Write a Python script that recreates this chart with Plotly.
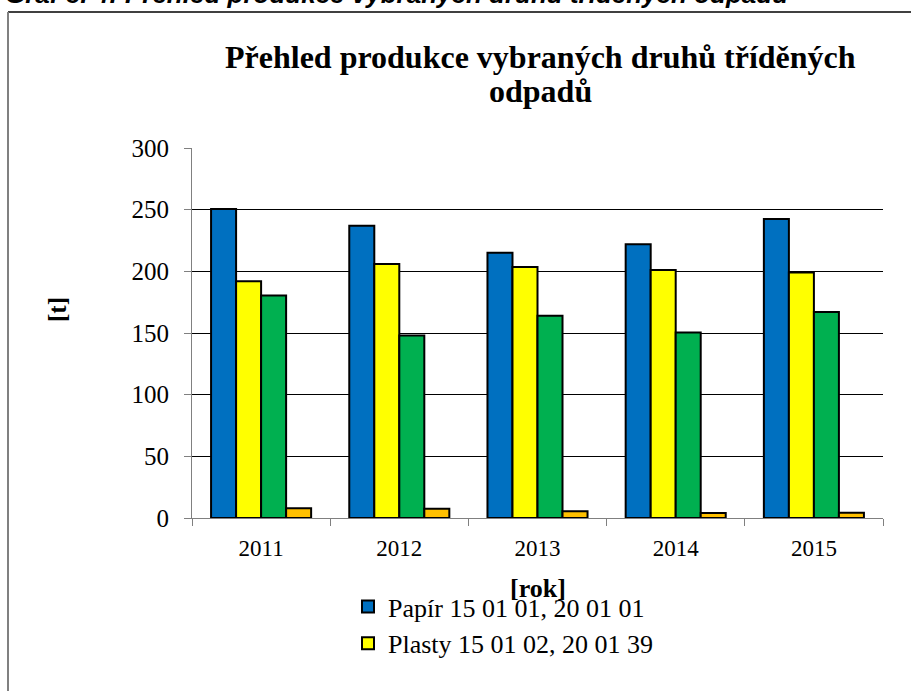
import plotly.graph_objects as go

years = ["2011", "2012", "2013", "2014", "2015"]
papir = [250.5, 237, 215, 222, 242.5]
plasty = [192, 206, 203.5, 201, 199]
serie3 = [180.5, 148, 164, 150.5, 167]
serie4 = [8, 7.5, 5.5, 4, 4.3]

names = ["Papír 15 01 01, 20 01 01", "Plasty 15 01 02, 20 01 39", "Série 3", "Série 4"]
colors = ["#0070C0", "#FFFF00", "#00B050", "#FFC000"]
series = [papir, plasty, serie3, serie4]
show = [True, True, False, False]

SERIF = "Liberation Serif"

fig = go.Figure()
for n, c, v, s in zip(names, colors, series, show):
    fig.add_trace(go.Bar(x=years, y=v, name=n, showlegend=s,
                         marker=dict(color=c, line=dict(color="black", width=2))))

W, H = 911, 691
L, R, T, B = 192, 28, 148, 173
pw, ph = W - L - R, H - T - B

def px(x):
    return (x - L) / pw

def py(y):
    return (H - B - y) / ph

fig.update_layout(
    width=W, height=H,
    margin=dict(l=L, r=R, t=T, b=B, autoexpand=False),
    paper_bgcolor="white", plot_bgcolor="white",
    barmode="group", bargap=0.276, bargroupgap=0,
    font=dict(family=SERIF, color="black", size=24),
    showlegend=True,
    legend=dict(x=px(348), y=py(583), xanchor="left", yanchor="top",
                font=dict(family=SERIF, size=26, color="black"),
                bgcolor="rgba(0,0,0,0)", tracegroupgap=0, itemwidth=30),
    xaxis=dict(showgrid=False, showline=True, linecolor="#808080", linewidth=1,
               ticks="outside", ticklen=7, tickcolor="#808080", tickson="boundaries",
               ticklabelstandoff=9,
               tickfont=dict(family=SERIF, size=23), fixedrange=True),
    yaxis=dict(range=[0, 300], dtick=50, showgrid=True, gridcolor="black", gridwidth=1,
               showline=True, linecolor="#808080", linewidth=1,
               ticks="outside", ticklen=7, tickcolor="#808080", ticklabelstandoff=10,
               tickfont=dict(family=SERIF, size=25), zeroline=False, fixedrange=True),
)

ann = [
    dict(text="<b>Přehled produkce vybraných druhů tříděných</b>", x=px(540), y=py(57),
         font=dict(family=SERIF, size=32)),
    dict(text="<b>odpadů</b>", x=px(540), y=py(91), font=dict(family=SERIF, size=32)),
    dict(text="<b>[rok]</b>", x=px(538), y=py(588), font=dict(family=SERIF, size=26)),
    dict(text="<b>[t]</b>", x=px(57), y=py(310), textangle=-90, font=dict(family=SERIF, size=25)),
    dict(text="<b><i>Graf č. 4: Přehled produkce vybraných druhů tříděných odpadů</i></b>",
         x=px(3), y=py(11), xanchor="left", yanchor="bottom",
         font=dict(family="Liberation Sans", size=26)),
]
for a in ann:
    a.setdefault("xanchor", "center")
    a.setdefault("yanchor", "middle")
    fig.add_annotation(xref="paper", yref="paper", showarrow=False, **a)

fig.add_shape(type="line", xref="paper", yref="paper", x0=px(8), x1=px(930), y0=py(12), y1=py(12),
              line=dict(color="#404040", width=2))
fig.add_shape(type="line", xref="paper", yref="paper", x0=px(8), x1=px(8), y0=py(12), y1=py(720),
              line=dict(color="#808080", width=2))

fig.write_html("out.html", config={"displayModeBar": False},
               post_script="document.body.style.margin='0';document.body.style.overflow='hidden';")
